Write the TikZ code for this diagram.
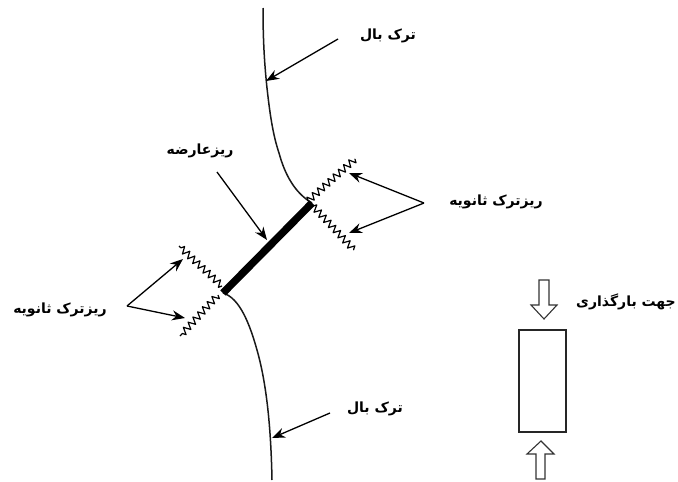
\documentclass[tikz,border=0pt]{standalone}
\usepackage{fontspec}
\TeXXeTstate=1
\newfontfamily\arabicfont[Script=Arabic]{DejaVu Sans}
\usetikzlibrary{arrows.meta,decorations.pathmorphing}
\tikzset{
  lbl/.style={font=\arabicfont\bfseries\fontsize{14}{16}\selectfont,inner sep=0pt},
  crack/.style={line width=1.5pt,black!90},
  ptr/.style={line width=1.3pt,-{Stealth[length=13pt,width=10pt]}},
  micro/.style={line width=1.2pt,line join=round,decorate,decoration={zigzag,segment length=7pt,amplitude=3.5pt}},
  ligament/.style={line width=7.5pt},
  block/.style={line width=1.1pt,draw=black!80,fill=white}
}
\begin{document}
\begin{tikzpicture}[x=1pt,y=-1pt]
\useasboundingbox (0,0) rectangle (678,482);
% labels
\node[lbl] (topl) at (388,36) {\beginR ترک بال\endR};
\node[lbl] (botl) at (375,409) {\beginR ترک بال\endR};
\node[lbl] (lig) at (200,151) {\beginR ریزعارضه\endR};
\node[lbl] (rs) at (496,202) {\beginR ریزترک ثانویه\endR};
\node[lbl] (ls) at (60,310) {\beginR ریزترک ثانویه\endR};
\node[lbl] (dir) at (626,302) {\beginR جهت بارگذاری\endR};
% key points
\coordinate (barA) at (223,293);
\coordinate (barB) at (312,203);
\coordinate (tipTop) at (266,81);
\coordinate (tipBot) at (272,438);
\coordinate (tipBar) at (267,240);
\coordinate (zUR) at (355,159);
\coordinate (zLR) at (354,250);
\coordinate (zUL) at (179,246);
\coordinate (zLL) at (180,336);
\coordinate (tR1) at (349,173);
\coordinate (tR2) at (349,233);
\coordinate (tL1) at (183,259);
\coordinate (tL2) at (185,318);
\coordinate (srcR) at (424,203);
\coordinate (srcL) at (127,306);
\coordinate (srcTop) at (338,39);
\coordinate (srcBot) at (330,413);
\coordinate (srcBar) at (217,172);
% main crack
\draw[crack] (263,8) .. controls (263,35) and (264,60) .. (267,88)
  .. controls (270,115) and (273,135) .. (279,153)
  .. controls (285,175) and (295,193) .. (barB);
\draw[crack] (barA) .. controls (240,298) and (250,325) .. (257,350)
  .. controls (267,385) and (271,430) .. (272,480);
% ligament
\draw[ligament] (barA) -- (barB);
% micro cracks
\draw[micro] (308,201) -- (zUR);
\draw[micro] (313,206) -- (zLR);
\draw[micro] (222,286) -- (zUL);
\draw[micro] (218,295) -- (zLL);
% pointers
\draw[ptr] (srcTop) -- (tipTop);
\draw[ptr] (srcBot) -- (tipBot);
\draw[ptr] (srcBar) -- (tipBar);
\draw[ptr] (srcR) -- (tR1);
\draw[ptr] (srcR) -- (tR2);
\draw[ptr] (srcL) -- (tL1);
\draw[ptr] (srcL) -- (tL2);
% specimen
\node[draw=black!85,line width=1.3pt,minimum width=47pt,minimum height=102pt,inner sep=0pt] (spec) at (542.5,381) {};
\draw[block] (539,280) -- (549,280) -- (549,305) -- (557,305) -- (544,319) -- (531,305) -- (539,305) -- cycle;
\draw[block] (536,479) -- (545,479) -- (545,454) -- (554,454) -- (541,441) -- (527,454) -- (536,454) -- cycle;
\end{tikzpicture}
\end{document}
